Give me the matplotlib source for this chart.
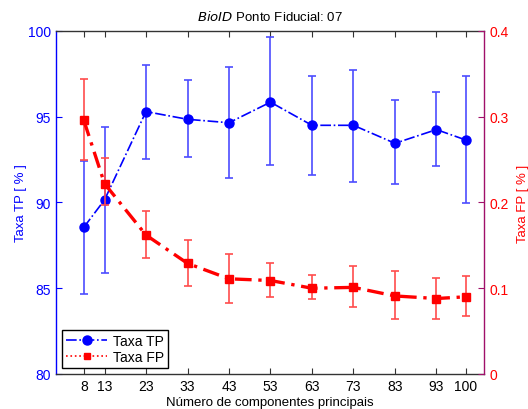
import numpy as np
import matplotlib.pyplot as plt
from matplotlib.lines import Line2D

plt.rcParams['font.family'] = ['Liberation Sans', 'DejaVu Sans']

# numero de componentes principais
comps = [8, 13, 23, 33, 43, 53, 63, 73, 83, 93, 100]

# taxa TP (%) com limites das barras de erro
tp = [88.55, 90.15, 95.3, 94.85, 94.65, 95.85, 94.5, 94.5, 93.45, 94.25, 93.65]
tp_top = [92.4, 94.4, 98.0, 97.15, 97.9, 99.65, 97.35, 97.75, 96.0, 96.45, 97.4]
tp_bot = [84.65, 85.9, 92.55, 92.65, 91.45, 92.2, 91.6, 91.2, 91.1, 92.1, 89.95]

# taxa FP com limites das barras de erro
fp = [0.296, 0.222, 0.162, 0.129, 0.111, 0.109, 0.100, 0.101, 0.091, 0.088, 0.090]
fp_top = [0.344, 0.252, 0.190, 0.156, 0.140, 0.130, 0.115, 0.126, 0.120, 0.112, 0.114]
fp_bot = [0.249, 0.197, 0.135, 0.103, 0.083, 0.090, 0.087, 0.078, 0.064, 0.064, 0.068]

tp = np.array(tp); fp = np.array(fp)
tp_err = [tp - np.array(tp_bot), np.array(tp_top) - tp]
fp_err = [fp - np.array(fp_bot), np.array(fp_top) - fp]

fig = plt.figure(figsize=(5.28, 4.10), dpi=100)
ax1 = fig.add_axes([0.106, 0.0854, 0.811, 0.8366])
ax2 = ax1.twinx()

ax1.errorbar(comps, tp, yerr=tp_err, fmt='none', ecolor='#4d4dff', elinewidth=1.2, capsize=3, capthick=1.2, zorder=2)
ax1.plot(comps, tp, color='#0000ff', linestyle='-.', linewidth=1.2, marker='o', markersize=6.5, zorder=3)

ax2.errorbar(comps, fp, yerr=fp_err, fmt='none', ecolor='#ff4d4d', elinewidth=1.2, capsize=3, capthick=1.2, zorder=2)
ax2.plot(comps, fp, color='#ff0000', linestyle=(0, (5, 2, 1, 2)), linewidth=2.4, marker='s', markersize=6, zorder=3)

ax1.set_xlim(1.3, 104.5)
ax1.set_ylim(80, 100)
ax2.set_ylim(0, 0.4)
ax1.set_xticks(comps)
ax1.set_yticks([80, 85, 90, 95, 100])
ax2.set_yticks([0, 0.1, 0.2, 0.3, 0.4])
ax2.set_yticklabels(['0', '0.1', '0.2', '0.3', '0.4'])

ax1.tick_params(axis='x', direction='in', top=True, labelsize=10, colors='#333333', labelcolor='black', length=4)
ax1.tick_params(axis='y', direction='in', colors='#0000ff', labelsize=10, length=4)
ax2.tick_params(axis='y', direction='in', colors='#a0106a', labelcolor='#ff0000', labelsize=10, length=4)

ax1.spines['left'].set_color('#0000ff')
ax1.spines['top'].set_color('#333333')
ax1.spines['bottom'].set_color('#333333')
ax2.spines['right'].set_color('#a0106a')
ax2.spines['left'].set_visible(False)
ax2.spines['top'].set_visible(False)
ax2.spines['bottom'].set_visible(False)
for sp in ['left', 'right', 'top', 'bottom']:
    ax1.spines[sp].set_linewidth(1.0)
    ax2.spines[sp].set_linewidth(1.0)
ax1.spines['right'].set_visible(False)

ax1.set_xlabel('Número de componentes principais', fontsize=9.5, labelpad=2)
ax1.set_ylabel('Taxa TP [ % ]', color='#0000ff', fontsize=9.5, labelpad=1)
ax2.set_ylabel('Taxa FP [ % ]', color='#ff0000', fontsize=9.5, labelpad=6)
ax1.set_title(r'$\it{BioID}$ Ponto Fiducial: 07', fontsize=9.5, pad=8)

handles = [
    Line2D([], [], color='#0000ff', linestyle='-.', linewidth=1.2, marker='o', markersize=6.5),
    Line2D([], [], color='#ff0000', linestyle=':', linewidth=1.2, marker='s', markersize=5),
]
leg = ax2.legend(handles, ['Taxa TP', 'Taxa FP'], loc='lower left', fontsize=10,
                 fancybox=False, framealpha=1, edgecolor='black', borderpad=0.3,
                 handlelength=3.0, handletextpad=0.4, labelspacing=0.15, borderaxespad=0.4)
leg.get_frame().set_linewidth(1.0)

fig.savefig('out.png', dpi=100)
